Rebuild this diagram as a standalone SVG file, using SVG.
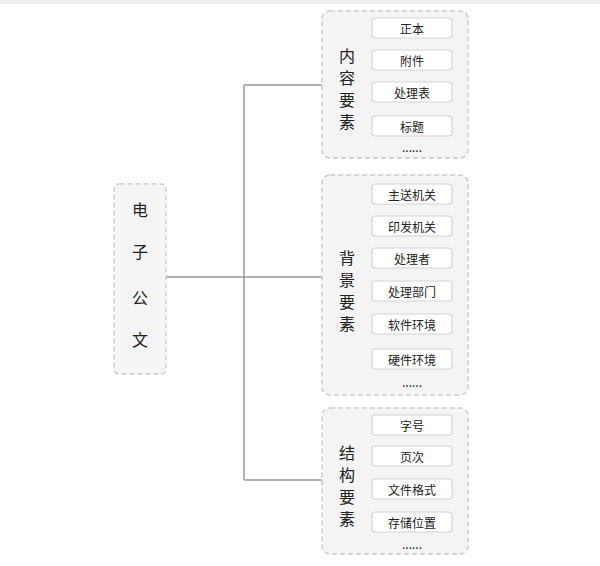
<svg xmlns="http://www.w3.org/2000/svg" width="600" height="566" viewBox="0 0 600 566">
<style>
text{font-family:"Noto Sans CJK SC",sans-serif;fill:#222;text-anchor:middle;dominant-baseline:central}
.g{fill:#f4f4f5;stroke:#ccc;stroke-width:1.5;stroke-dasharray:5 3}
.i{fill:#fff;stroke:#d4d4d4;stroke-width:1.2}
.it{font-size:12px}
.gl{font-size:16px}
.c{fill:none;stroke:#999;stroke-width:1.5}
</style>
<rect width="600" height="566" fill="#fff"/>
<rect width="600" height="4" fill="#eee"/>
<g id="connectors">
<path class="c" d="M166 277H322M244 85V480M244 85H322M244 480H322"/>
</g>
<g id="root">
<rect class="g" x="114" y="184" width="52" height="190" rx="5"/>
<text class="gl" x="140" y="209">电</text><text class="gl" x="140" y="251">子</text><text class="gl" x="140" y="297">公</text><text class="gl" x="140" y="339">文</text>
</g>
<g id="content">
<rect class="g" x="322" y="11" width="146" height="147" rx="8"/>
<text class="gl" x="347" y="55">内</text><text class="gl" x="347" y="77">容</text><text class="gl" x="347" y="99">要</text><text class="gl" x="347" y="121">素</text>
<rect class="i" x="372" y="18" width="80" height="20" rx="3"/><text class="it" x="412" y="28">正本</text>
<rect class="i" x="372" y="50" width="80" height="20" rx="3"/><text class="it" x="412" y="60">附件</text>
<rect class="i" x="372" y="82" width="80" height="20" rx="3"/><text class="it" x="412" y="92">处理表</text>
<rect class="i" x="372" y="116" width="80" height="20" rx="3"/><text class="it" x="412" y="126">标题</text>
<text class="it" x="412" y="146">......</text>
</g>
<g id="background">
<rect class="g" x="322" y="175" width="146" height="220" rx="8"/>
<text class="gl" x="347" y="257">背</text><text class="gl" x="347" y="279">景</text><text class="gl" x="347" y="301">要</text><text class="gl" x="347" y="323">素</text>
<rect class="i" x="372" y="184" width="80" height="20" rx="3"/><text class="it" x="412" y="194">主送机关</text>
<rect class="i" x="372" y="216" width="80" height="20" rx="3"/><text class="it" x="412" y="226">印发机关</text>
<rect class="i" x="372" y="248" width="80" height="20" rx="3"/><text class="it" x="412" y="258">处理者</text>
<rect class="i" x="372" y="281" width="80" height="20" rx="3"/><text class="it" x="412" y="291">处理部门</text>
<rect class="i" x="372" y="314" width="80" height="20" rx="3"/><text class="it" x="412" y="324">软件环境</text>
<rect class="i" x="372" y="349" width="80" height="20" rx="3"/><text class="it" x="412" y="359">硬件环境</text>
<text class="it" x="412" y="381">......</text>
</g>
<g id="structure">
<rect class="g" x="322" y="408" width="146" height="146" rx="8"/>
<text class="gl" x="347" y="452">结</text><text class="gl" x="347" y="474">构</text><text class="gl" x="347" y="496">要</text><text class="gl" x="347" y="518">素</text>
<rect class="i" x="372" y="415" width="80" height="20" rx="3"/><text class="it" x="412" y="425">字号</text>
<rect class="i" x="372" y="446" width="80" height="20" rx="3"/><text class="it" x="412" y="456">页次</text>
<rect class="i" x="372" y="479" width="80" height="20" rx="3"/><text class="it" x="412" y="489">文件格式</text>
<rect class="i" x="372" y="512" width="80" height="20" rx="3"/><text class="it" x="412" y="522">存储位置</text>
<text class="it" x="412" y="543">......</text>
</g>
</svg>
